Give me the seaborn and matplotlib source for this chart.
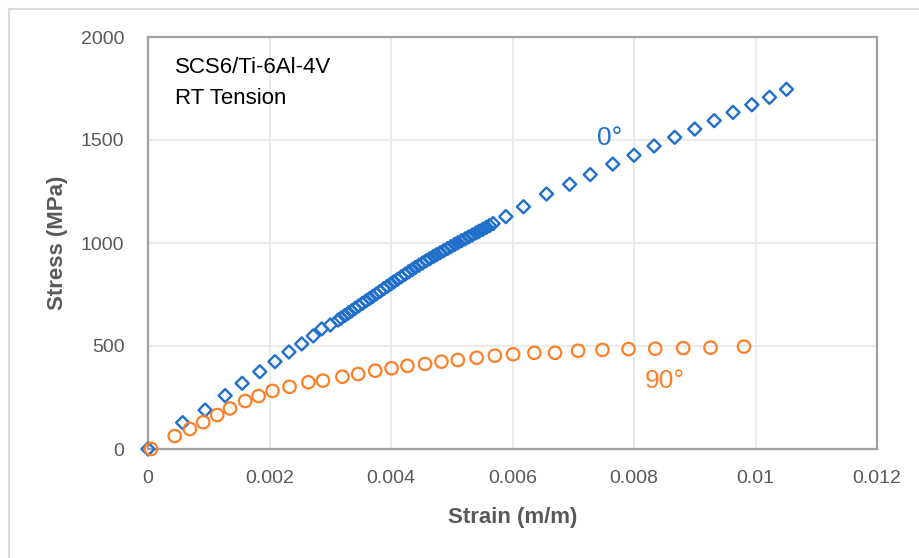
import matplotlib
matplotlib.use("Agg")
import matplotlib.pyplot as plt
from matplotlib.patches import Rectangle
from matplotlib.ticker import FuncFormatter
import seaborn as sns
import pandas as pd

# 0 degree laminate: strain (m/m) and stress (MPa)
strain_0 = [
    0.0, 0.00057, 0.00094, 0.00127, 0.00155, 0.00184, 0.00209, 0.00232,
    0.00253, 0.00272, 0.00286, 0.00300, 0.00313,
    0.00318, 0.00324, 0.00330, 0.00335, 0.00341, 0.00347, 0.00353, 0.00359,
    0.00365, 0.00370, 0.00376, 0.00382, 0.00388, 0.00394, 0.00400, 0.00405,
    0.00411, 0.00417, 0.00423, 0.00429, 0.00435, 0.00440, 0.00446, 0.00452,
    0.00458, 0.00464, 0.00470, 0.00475, 0.00481, 0.00487, 0.00493, 0.00499,
    0.00505, 0.00510, 0.00516, 0.00522, 0.00528, 0.00534, 0.00540, 0.00545,
    0.00551, 0.00557, 0.00562,
    0.00568, 0.00589, 0.00618, 0.00656, 0.00694, 0.00728, 0.00765, 0.00800,
    0.00833, 0.00867, 0.00900, 0.00932, 0.00963, 0.00994, 0.01023, 0.01051,
]
stress_0 = [
    0, 128, 189, 259, 319, 375, 424, 471,
    510, 549, 583, 602, 626,
    636, 648, 660, 670, 683, 695, 707, 719,
    731, 741, 753, 765, 778, 790, 802, 812,
    824, 836, 848, 860, 871, 881, 892, 903,
    914, 924, 935, 943, 953, 963, 973, 983,
    993, 1001, 1011, 1020, 1030, 1039, 1049, 1057,
    1066, 1076, 1084,
    1094, 1128, 1176, 1238, 1285, 1332, 1383, 1426,
    1471, 1513, 1553, 1594, 1634, 1671, 1707, 1746,
]

# 90 degree laminate
strain_90 = [
    0.00005, 0.00044, 0.00069, 0.00091, 0.00114, 0.00135, 0.00160, 0.00182,
    0.00205, 0.00233, 0.00264, 0.00288, 0.00320, 0.00346, 0.00374, 0.00401,
    0.00427, 0.00456, 0.00483, 0.00510, 0.00541, 0.00571, 0.00601, 0.00636,
    0.00670, 0.00708, 0.00748, 0.00791, 0.00835, 0.00881, 0.00926, 0.00981,
]
stress_90 = [
    0, 63, 97, 130, 165, 197, 233, 257,
    282, 302, 324, 332, 351, 364, 380, 392,
    404, 413, 424, 432, 443, 453, 460, 467,
    467, 477, 481, 485, 487, 490, 492, 497,
]

x_ticks = [0, 0.002, 0.004, 0.006, 0.008, 0.01, 0.012]
y_ticks = [0, 500, 1000, 1500, 2000]

BLUE = "#1F6FCB"
ORANGE = "#FF7F27"
GRAY_TEXT = "#595959"

sns.set_style("white")
plt.rcParams["font.family"] = ["Liberation Sans", "DejaVu Sans"]

fig = plt.figure(figsize=(9.19, 5.58), dpi=100)
ax = fig.add_axes([148 / 919, 1 - 449 / 558, 729 / 919, 412 / 558])

df0 = pd.DataFrame({"strain": strain_0, "stress": stress_0})
df90 = pd.DataFrame({"strain": strain_90, "stress": stress_90})

sns.scatterplot(data=df0, x="strain", y="stress", ax=ax, marker="D", s=44,
                facecolors="none", edgecolor=BLUE, linewidth=1.7, zorder=3,
                clip_on=False)
sns.scatterplot(data=df90, x="strain", y="stress", ax=ax, marker="o", s=80,
                facecolors="none", edgecolor=ORANGE, linewidth=1.6, zorder=4,
                clip_on=False)

ax.set_xlim(x_ticks[0], x_ticks[-1])
ax.set_ylim(y_ticks[0], y_ticks[-1])
ax.set_xticks(x_ticks)
ax.set_yticks(y_ticks)
ax.xaxis.set_major_formatter(FuncFormatter(lambda v, p: f"{v:g}"))
ax.yaxis.set_major_formatter(FuncFormatter(lambda v, p: f"{v:g}"))
ax.grid(True, color="#e8e8e8", linewidth=1.3, zorder=0)
ax.set_axisbelow(True)
for sp in ax.spines.values():
    sp.set_color("#a0a0a0")
    sp.set_linewidth(1.6)
    sp.set_visible(True)
ax.tick_params(axis="both", length=0, labelsize=14, labelcolor=GRAY_TEXT)
ax.tick_params(axis="x", pad=15)
ax.tick_params(axis="y", pad=17)

ax.set_xlabel("Strain (m/m)", fontsize=16, fontweight="bold", color=GRAY_TEXT,
              va="center")
ax.set_ylabel("Stress (MPa)", fontsize=16, fontweight="bold", color=GRAY_TEXT,
              va="center")
ax.xaxis.set_label_coords(0.5, (449 - 517) / 412)
ax.yaxis.set_label_coords((57 - 148) / 729, 0.5)

ax.text(0.037, (449 - 73) / 412, "SCS6/Ti-6Al-4V", transform=ax.transAxes,
        fontsize=16, color="black", va="baseline", ha="left")
ax.text(0.037, (449 - 104) / 412, "RT Tension", transform=ax.transAxes,
        fontsize=16, color="black", va="baseline", ha="left")

ax.text(0.0076, 1510, "0°", fontsize=19, color=BLUE, ha="center", va="center")
ax.text(0.00851, 330, "90°", fontsize=19, color=ORANGE, ha="center", va="center")

# light frame around the chart area
fig.add_artist(Rectangle((9 / 919, -0.1), 1.2, 0.1 + 1 - 9 / 558,
                         transform=fig.transFigure, fill=False,
                         edgecolor="#d9d9d9", linewidth=1.5))

fig.savefig("out.png", dpi=100, facecolor="white")
